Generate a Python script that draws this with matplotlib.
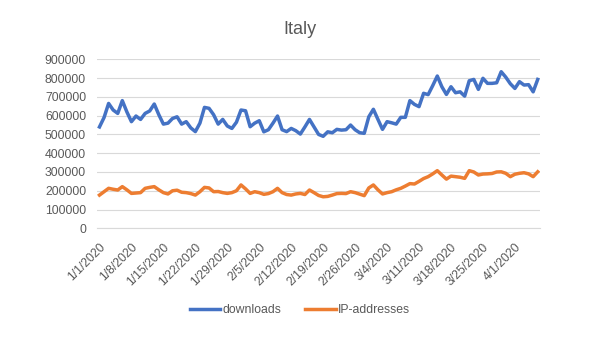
import datetime
import matplotlib
matplotlib.use("Agg")
import matplotlib.pyplot as plt

# daily values, 1/1/2020 .. 4/6/2020
downloads = [
    540000, 590000, 665000, 630000, 612000, 680000, 620000, 568000, 598000, 580000,
    612000, 625000, 662000, 605000, 555000, 560000, 585000, 594000, 555000, 568000,
    535000, 515000, 560000, 644000, 639000, 605000, 555000, 580000, 545000, 532000,
    565000, 630000, 626000, 541000, 560000, 573000, 514000, 525000, 560000, 598000,
    525000, 515000, 532000, 520000, 502000, 540000, 580000, 540000, 500000, 490000,
    514000, 509000, 527000, 523000, 525000, 550000, 525000, 509000, 506000, 594000,
    634000, 580000, 527000, 568000, 562000, 555000, 591000, 591000, 680000, 660000,
    648000, 719000, 712000, 760000, 811000, 754000, 713000, 754000, 722000, 727000,
    704000, 786000, 793000, 740000, 799000, 772000, 772000, 775000, 834000, 805000,
    770000, 745000, 781000, 763000, 765000, 727000, 793000,
]
ip_addresses = [
    177000, 195000, 213000, 208000, 204000, 222000, 205000, 186000, 188000, 190000,
    213000, 218000, 222000, 205000, 190000, 183000, 200000, 203000, 192000, 190000,
    185000, 177000, 195000, 218000, 215000, 195000, 196000, 190000, 186000, 190000,
    200000, 231000, 210000, 186000, 195000, 190000, 181000, 185000, 195000, 213000,
    190000, 180000, 177000, 183000, 186000, 180000, 204000, 190000, 175000, 168000,
    170000, 177000, 185000, 186000, 185000, 195000, 190000, 182000, 174000, 215000,
    231000, 205000, 183000, 190000, 195000, 205000, 213000, 225000, 238000, 236000,
    250000, 265000, 275000, 290000, 307000, 284000, 262000, 278000, 275000, 272000,
    266000, 307000, 300000, 284000, 289000, 290000, 292000, 300000, 301000, 293000,
    275000, 288000, 293000, 296000, 290000, 275000, 301000,
]
start = datetime.date(2020, 1, 1)
dates = [start + datetime.timedelta(days=i) for i in range(len(downloads))]
date_labels = [f"{d.month}/{d.day}/{d.year}" for d in dates]

plt.rcParams['font.family'] = ['Liberation Sans', 'DejaVu Sans']
grey = "#595959"

fig = plt.figure(figsize=(6, 3.39), dpi=100)
ax = fig.add_axes([0.162, 0.3265, 0.738, 0.4985])

x = list(range(len(downloads)))
ax.plot(x, downloads, color="#4472C4", lw=2.5, label="downloads", solid_joinstyle="round")
ax.plot(x, ip_addresses, color="#ED7D31", lw=2.5, label="IP-addresses", solid_joinstyle="round")

ax.set_xlim(-0.5, len(x) - 0.5)
ax.set_ylim(0, 900000)
ax.set_yticks(range(0, 900001, 100000))
ax.set_yticklabels([str(v) for v in range(0, 900001, 100000)])
ax.set_xticks(x[::7])
ax.set_xticklabels(date_labels[::7], rotation=45, ha="right", rotation_mode="anchor")

ax.grid(axis="y", color="#D9D9D9", lw=0.8)
ax.set_axisbelow(True)
for s in ["top", "right", "left"]:
    ax.spines[s].set_visible(False)
ax.spines["bottom"].set_color("#D9D9D9")
ax.tick_params(axis="both", length=0, colors=grey, labelsize=8.8)
ax.tick_params(axis="y", pad=8)
ax.tick_params(axis="x", pad=9)

fig.text(0.5, 0.912, "Italy", ha="center", va="center", fontsize=13, color=grey)
fig.legend(loc="center", bbox_to_anchor=(0.5, 0.085), ncol=2, frameon=False,
           fontsize=8.8, labelcolor=grey, handlelength=2.5, handletextpad=0.2,
           columnspacing=1.9)

fig.savefig("out.png", dpi=100)
